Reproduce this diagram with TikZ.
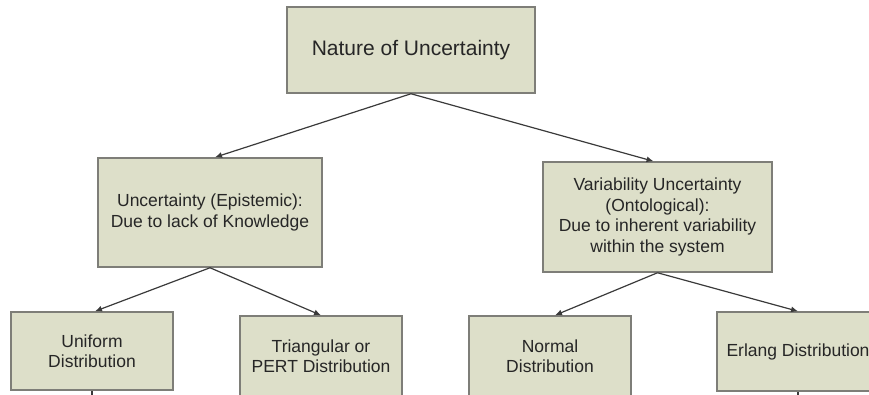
\documentclass[tikz,border=0pt]{standalone}
\usepackage{fontspec}
\setmainfont{Liberation Sans}
\usepackage{tikz}
\usetikzlibrary{arrows.meta,positioning}
\definecolor{nufill}{HTML}{DDDFC9}
\definecolor{nuedge}{HTML}{7E7E78}
\definecolor{nuink}{HTML}{262626}
\definecolor{nuwire}{HTML}{3A3A3A}
\tikzset{
  bx/.style={draw=nuedge, fill=nufill, line width=1.5pt, align=center, inner sep=2pt, text=nuink,
    font=\fontsize{17.5}{20.5}\selectfont},
  top/.style={bx, minimum width=248pt, minimum height=86pt, font=\fontsize{21}{25}\selectfont},
  mid/.style={bx, minimum width=226pt, minimum height=110pt},
  leaf/.style={bx, minimum width=162pt, minimum height=78pt},
  arr/.style={-{Latex[length=7pt,width=6pt]}, line width=1.2pt, color=nuwire},
  stub/.style={line width=1.2pt, color=nuwire},
}
\begin{document}
\begin{tikzpicture}[x=1pt, y=-1pt]
  \useasboundingbox (0,0) rectangle (869,394);
  \clip (0,0) rectangle (869,394);
  \node[top] (nat) at (411,50) {Nature of Uncertainty};
  \node[mid, minimum width=224pt, minimum height=109pt] (epi) at (210,212.5) {Uncertainty (Epistemic):\\Due to lack of Knowledge};
  \node[mid, minimum width=229pt] (ont) at (657.5,217) {Variability Uncertainty\\(Ontological):\\Due to inherent variability\\within the system};
  \node[leaf] (uni) at (92,351) {Uniform\\Distribution};
  \node[leaf, minimum height=80pt] (tri) at (321,356) {Triangular or\\PERT Distribution};
  \node[leaf, minimum height=80pt] (nor) at (550,356) {Normal\\Distribution};
  \node[leaf, minimum height=79pt] (erl) at (798,351.5) {Erlang Distribution};
  \coordinate (uninext) at (92,410);
  \coordinate (erlnext) at (798,410);
  \draw[arr] (nat.south) -- ([xshift=5pt]epi.north);
  \draw[arr] (nat.south) -- ([xshift=-4pt]ont.north);
  \draw[arr] (epi.south) -- ([xshift=3pt]uni.north);
  \draw[arr] (epi.south) -- (tri.north);
  \draw[arr] (ont.south) -- ([xshift=5pt]nor.north);
  \draw[arr] (ont.south) -- (erl.north);
  \draw[stub] (uni.south) -- (uninext); \draw[stub] (erl.south) -- (erlnext);
\end{tikzpicture}
\end{document}
